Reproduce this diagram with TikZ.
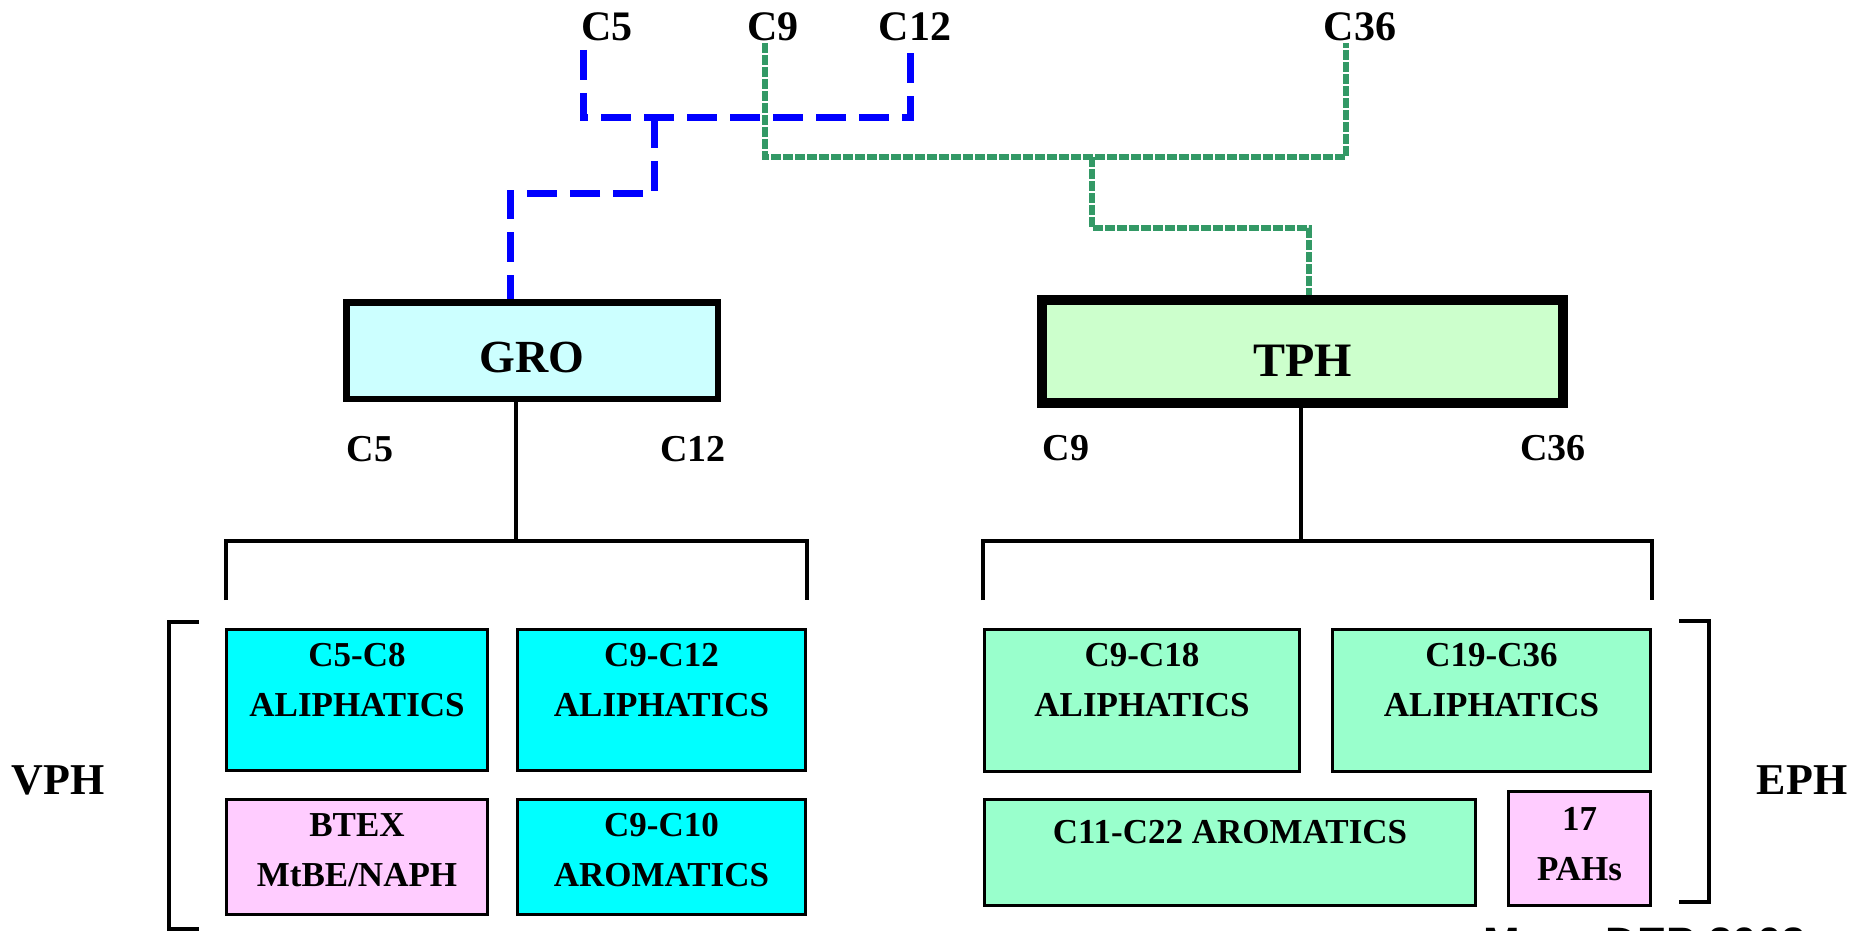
\documentclass[tikz,border=0pt]{standalone}
\usepackage{fontspec}
\setmainfont{Liberation Serif}
\newfontfamily\sourcefont{Liberation Sans}
\usetikzlibrary{positioning}

\definecolor{blueline}{RGB}{0,0,255}
\definecolor{greenline}{RGB}{51,153,102}
\definecolor{grofill}{RGB}{204,255,255}
\definecolor{tphfill}{RGB}{204,255,204}
\definecolor{vphfill}{RGB}{0,255,255}
\definecolor{ephfill}{RGB}{153,255,204}
\definecolor{pahfill}{RGB}{255,204,255}

\begin{document}
\begin{tikzpicture}[x=1pt, y=-1pt,
  lbl/.style={font=\fontsize{42}{50}\selectfont\bfseries, inner sep=0pt},
  sublbl/.style={font=\fontsize{38}{46}\selectfont\bfseries, inner sep=0pt},
  sidelbl/.style={font=\fontsize{44}{50}\selectfont\bfseries, inner sep=0pt},
  bigbox/.style={draw, rectangle, inner sep=0pt, text depth=0pt},
  famcbox/.style={draw, rectangle, line width=3pt, inner sep=0pt},
  famtext/.style={font=\fontsize{35}{50}\selectfont\bfseries, align=center, inner sep=0pt},
  bracket/.style={line width=3.5pt},
  groline/.style={blueline, line width=7pt, dash pattern=on 30pt off 13pt},
  tphline/.style={greenline, line width=6pt, dash pattern=on 10pt off 2pt}]

  % Page
  \fill[white] (0,0) rectangle (1853,931);
  \useasboundingbox (0,0) rectangle (1853,931);

  % Carbon ranges at the top
  \node[lbl] (t5)  at (607,27)  {C5};
  \node[lbl] (t9)  at (773,27)  {C9};
  \node[lbl] (t12) at (915,27)  {C12};
  \node[lbl] (t36) at (1360,27) {C36};

  % The two methods
  \node[bigbox, line width=6.5pt, fill=grofill, minimum width=371.5pt, minimum height=96.5pt,
        font=\fontsize{46}{55}\selectfont\bfseries, text height=43pt] (gro) at (532,350.5) {GRO};
  \node[bigbox, line width=10pt, fill=tphfill, minimum width=521pt, minimum height=103pt,
        font=\fontsize{48}{58}\selectfont\bfseries, text height=49pt] (tph) at (1302.5,351.5) {TPH};

  % Ranges under the methods
  \node[sublbl] (g5)  at (370,449)  {C5};
  \node[sublbl] (g12) at (693,449)  {C12};
  \node[sublbl] (p9)  at (1066,448) {C9};
  \node[sublbl] (p36) at (1553,448) {C36};

  % GRO range (blue dashes)
  \coordinate (b5)  at (583,50);
  \coordinate (b12) at (910,50);
  \coordinate (bj)  at (654,118);
  \coordinate (bk)  at (510,193);
  \draw[groline] (b5) -- (b5 |- bj) -- (b12 |- bj) -- (b12);
  \draw[groline] (bj) |- (bk) -- (bk |- gro.north);

  % TPH range (green)
  \coordinate (e9)  at (765,43);
  \coordinate (e36) at (1346,43);
  \coordinate (ej)  at (1092,157);
  \coordinate (ek)  at (1309,228);
  \draw[tphline] (e9) -- (e9 |- ej) -- (e36 |- ej) -- (e36);
  \draw[tphline] (ej) |- (ek) -- (ek |- tph.north);

  % Fractions, VPH side
  \node[famcbox, fill=vphfill, minimum width=261pt, minimum height=141pt] (c5c8)  at (357,700)   {};
  \node[famcbox, fill=vphfill, minimum width=288pt, minimum height=141pt] (c9c12) at (661.5,700) {};
  \node[famcbox, fill=pahfill, minimum width=261pt, minimum height=115pt] (btex)  at (357,857)   {};
  \node[famcbox, fill=vphfill, minimum width=288pt, minimum height=115pt] (c9c10) at (661.5,857) {};
  \node[famtext, below=15pt of c5c8.north]  (c5c8t)  {C5-C8\\ALIPHATICS};
  \node[famtext, below=15pt of c9c12.north] (c9c12t) {C9-C12\\ALIPHATICS};
  \node[famtext, below=15pt of btex.north]  (btext)  {BTEX\\MtBE/NAPH};
  \node[famtext, below=15pt of c9c10.north] (c9c10t) {C9-C10\\AROMATICS};

  % Fractions, EPH side
  \node[famcbox, fill=ephfill, minimum width=315pt, minimum height=142pt] (c9c18)  at (1142,700.5)   {};
  \node[famcbox, fill=ephfill, minimum width=318pt, minimum height=142pt] (c19c36) at (1491.5,700.5) {};
  \node[famcbox, fill=ephfill, minimum width=491pt, minimum height=106pt] (c11c22) at (1230,852.5)   {};
  \node[famcbox, fill=pahfill, minimum width=142pt, minimum height=114pt] (pahs)   at (1579.5,848.5) {};
  \node[famtext, below=15pt of c9c18.north]  (c9c18t)  {C9-C18\\ALIPHATICS};
  \node[famtext, below=15pt of c19c36.north] (c19c36t) {C19-C36\\ALIPHATICS};
  \node[famtext, below=22pt of c11c22.north] (c11c22t) {C11-C22 AROMATICS};
  \node[famtext, below=17pt of pahs.north]   (pahst)   {17\\PAHs};

  % Stems and brackets
  \coordinate (grostem) at (516,541);
  \coordinate (tphstem) at (1301,541);
  \draw[bracket] (gro.south -| grostem) -- (grostem);
  \draw[bracket] (tph.south -| tphstem) -- (tphstem);
  \draw[bracket] (226,600) |- (grostem) -| (807,600);
  \draw[bracket] (983,600) |- (tphstem) -| (1652,600);

  % Side brackets
  \draw[bracket] (199,622) -- (169,622) -- (169,929) -- (199,929);
  \draw[bracket] (1679,621) -- (1709,621) -- (1709,902) -- (1679,902);
  \node[sidelbl] (vph) at (58,780)   {VPH};
  \node[sidelbl] (eph) at (1802,780) {EPH};

  % Source, cut by the page edge
  \node[anchor=base west, inner sep=0pt, font=\sourcefont\bfseries\fontsize{44}{50}\selectfont]
    (src) at (1483,958) {Mass DEP 2002};

\end{tikzpicture}
\end{document}
